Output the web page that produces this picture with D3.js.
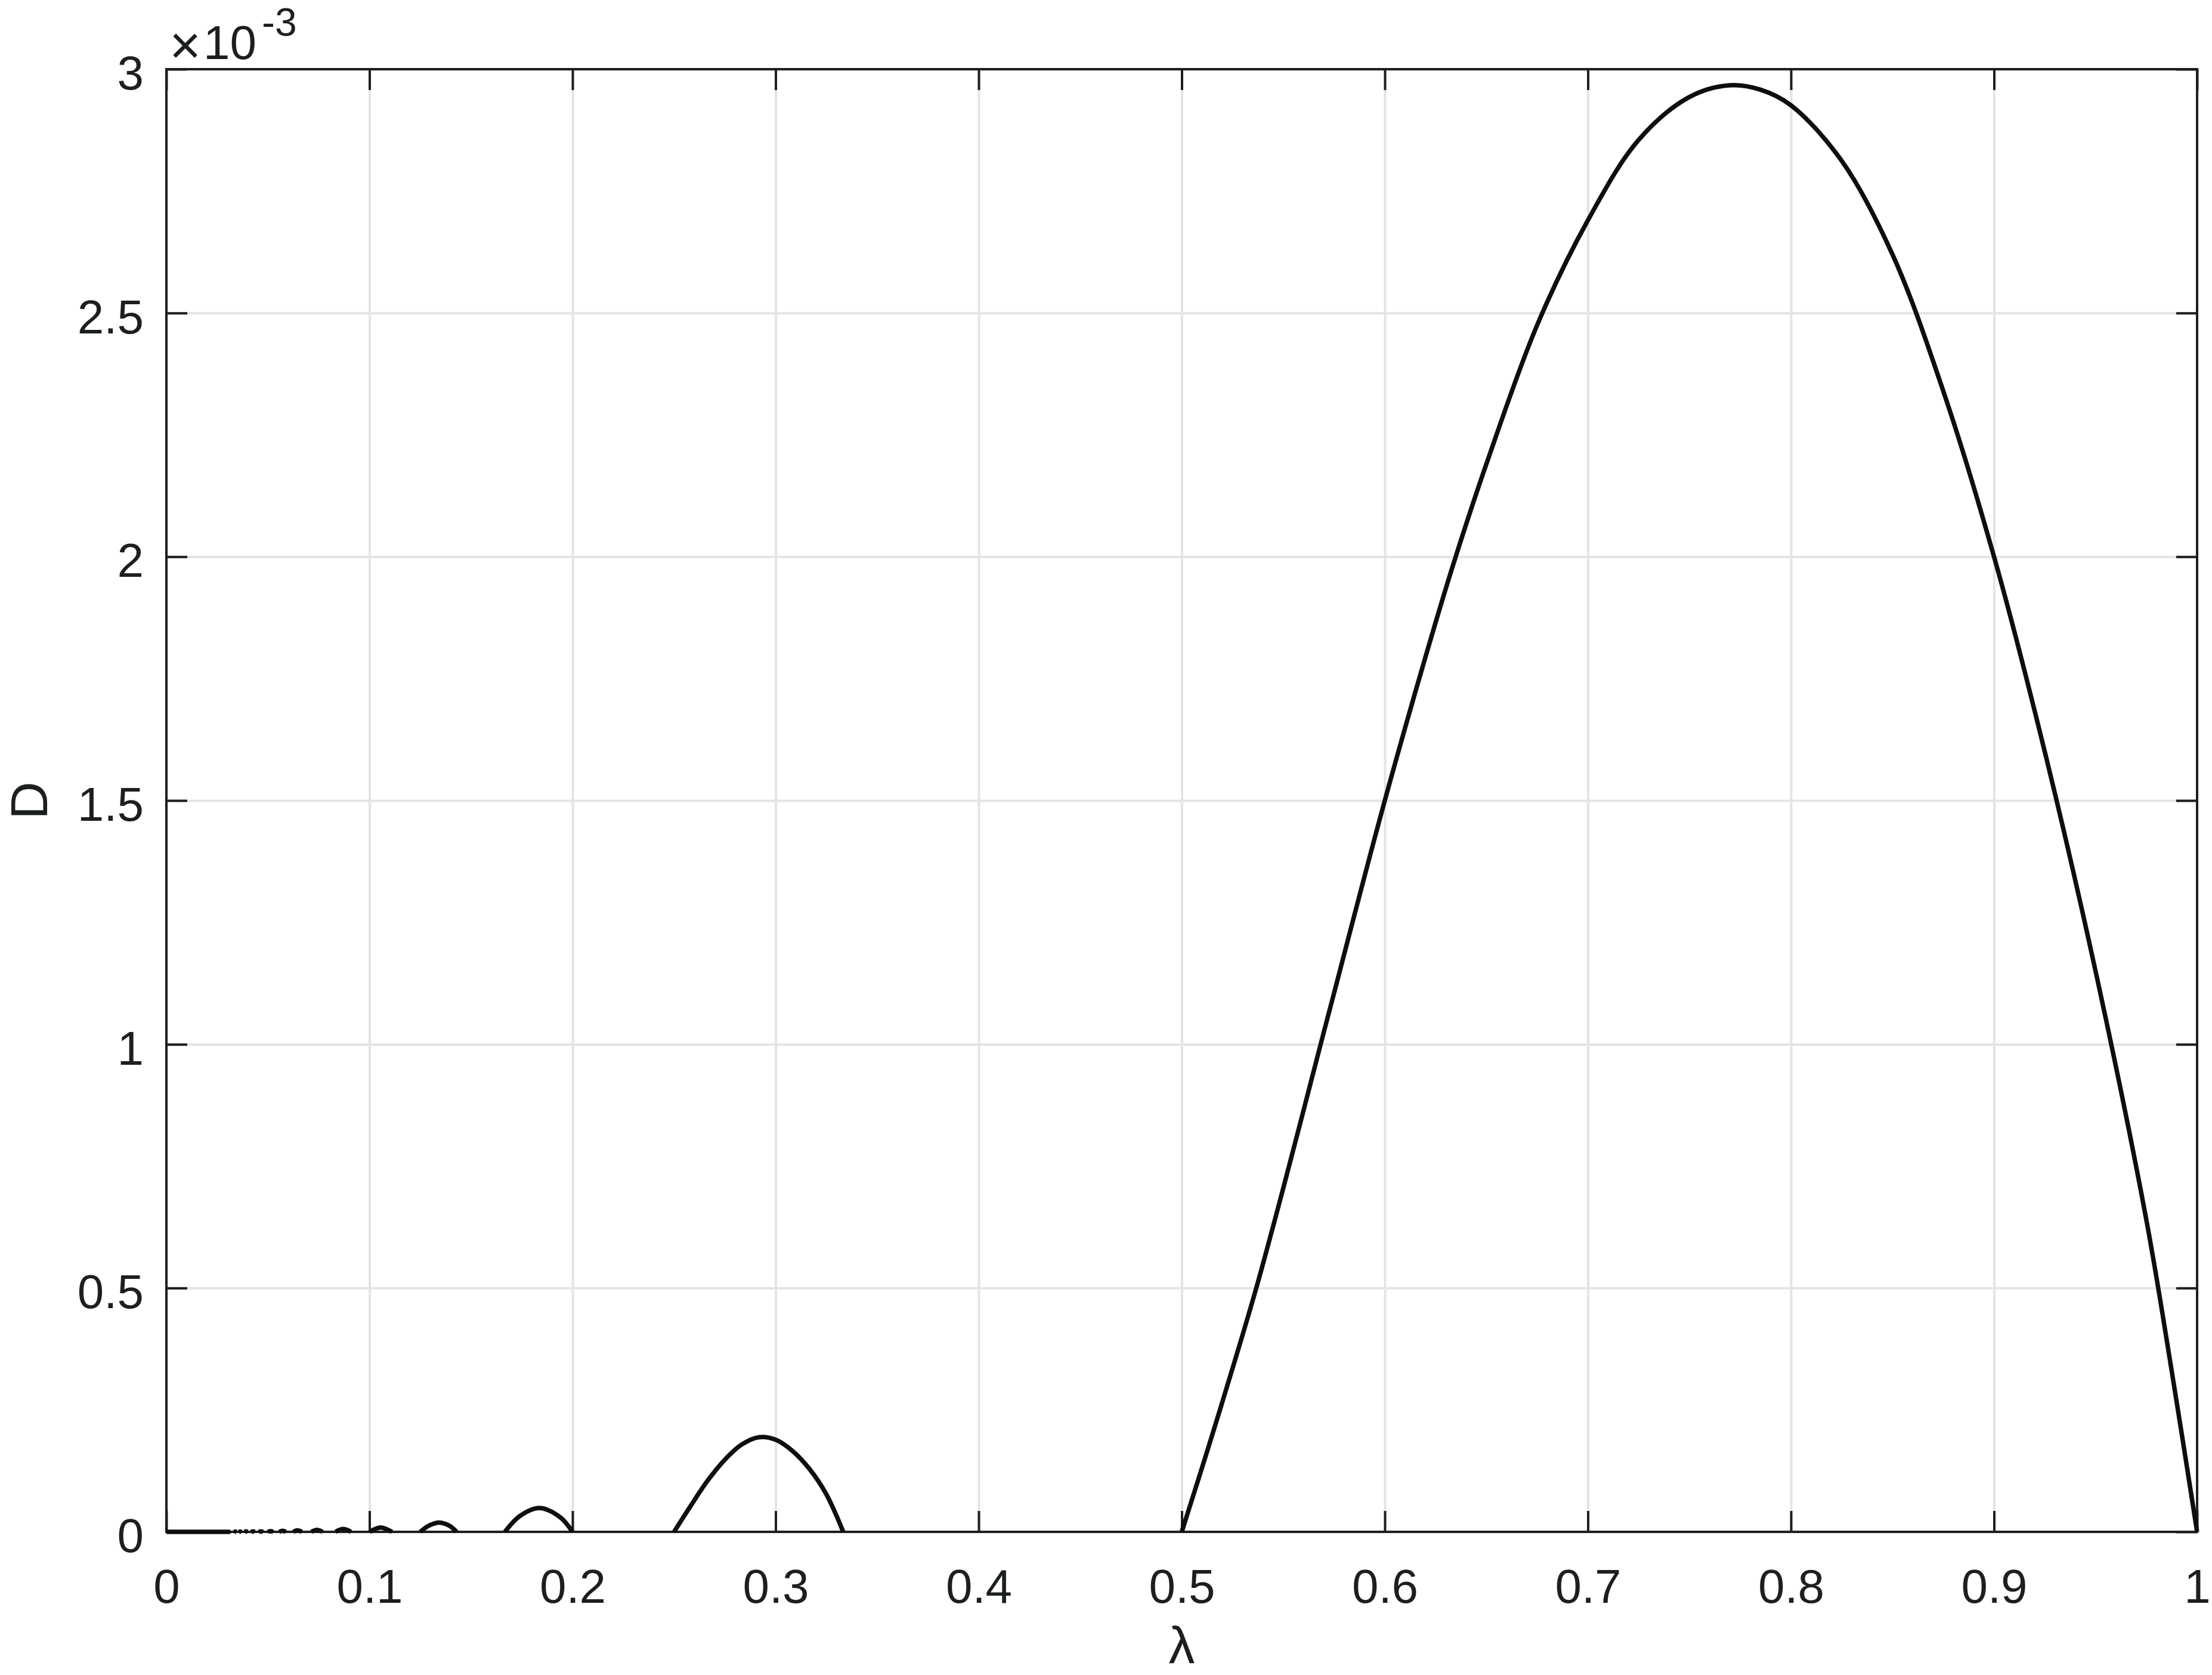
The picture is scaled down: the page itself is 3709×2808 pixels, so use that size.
<!DOCTYPE html>
<html>
<head>
<meta charset="utf-8">
<script src="https://cdn.jsdelivr.net/npm/d3@7"></script>
<style>
  html, body { margin: 0; padding: 0; background: #fff; }
  svg { display: block; font-family: "Liberation Sans", Arial, Helvetica, sans-serif; }
</style>
</head>
<body>
<script>
// main hump, lambda in [1/2, 1], D in units of 1e-3
const mainLambda = [0.5, 0.5125, 0.525, 0.5367, 0.55, 0.5684, 0.575, 0.6, 0.625, 0.6349, 0.65, 0.675, 0.7, 0.725, 0.75, 0.7697, 0.785, 0.8, 0.825, 0.85, 0.875, 0.9, 0.925, 0.95, 0.975, 0.9875, 1.0]
const mainD = [0, 0.165, 0.335, 0.5, 0.705, 1.0, 1.105, 1.5, 1.865, 2.0, 2.19, 2.475, 2.69, 2.855, 2.943, 2.967, 2.958, 2.926, 2.812, 2.62, 2.34, 2.0, 1.6, 1.15, 0.64, 0.33, 0]

// second hump, [1/4, 1/3]
const hump2Lambda = [0.25, 0.2583, 0.2667, 0.275, 0.2833, 0.2917, 0.3, 0.3083, 0.3167, 0.325, 0.3333]
const hump2D = [0, 0.054, 0.106, 0.148, 0.179, 0.194, 0.189, 0.166, 0.129, 0.077, 0]

// third and fourth humps
const hump3Lambda = [0.1667, 0.1739, 0.1836, 0.1939, 0.2]
const hump3D = [0, 0.032, 0.049, 0.030, 0]
const hump4Lambda = [0.125, 0.1294, 0.1345, 0.1396, 0.1429]
const hump4D = [0, 0.013, 0.019, 0.012, 0]

// tiny humps near the origin
const smallStart = [0.1, 0.0833, 0.0714, 0.0625, 0.0556, 0.05, 0.0455, 0.0417, 0.0385, 0.0357, 0.0333]
const smallPeak = [0.1055, 0.0871, 0.0741, 0.0645, 0.0572, 0.0513, 0.0465, 0.0426, 0.0392, 0.0363, 0.0339]
const smallEnd = [0.1111, 0.0909, 0.0769, 0.0667, 0.0588, 0.0526, 0.0476, 0.0435, 0.04, 0.037, 0.0345]
const smallHeight = [0.009, 0.0057, 0.004, 0.003, 0.002, 0.0015, 0.001, 0.001, 0.0008, 0.0006, 0.0005]
// merged band of the remaining humps
const bandLambda = [0, 0.0315]
const bandD = [0, 0]

const xTicks = [0, 0.1, 0.2, 0.3, 0.4, 0.5, 0.6, 0.7, 0.8, 0.9, 1]
const xTickLabels = ['0', '0.1', '0.2', '0.3', '0.4', '0.5', '0.6', '0.7', '0.8', '0.9', '1']
const yTicks = [0, 0.5, 1, 1.5, 2, 2.5, 3]
const yTickLabels = ['0', '0.5', '1', '1.5', '2', '2.5', '3']

const width = 3709
const height = 2808
const plotLeft = 279, plotRight = 3684, plotTop = 116, plotBottom = 2568
const axisColor = '#1c1f1f'
const gridColor = '#e2e5e5'

const svg = d3.select('body').append('svg').attr('width', width).attr('height', height)
svg.append('rect').attr('width', width).attr('height', height).attr('fill', '#fff')

const x = d3.scaleLinear().domain([0, 1]).range([plotLeft, plotRight])
const y = d3.scaleLinear().domain([0, 3]).range([plotBottom, plotTop])

// grid
const xGrid = svg.append('g').attr('transform', `translate(0,${plotBottom})`)
    .call(d3.axisBottom(x).tickValues(xTicks).tickSize(-(plotBottom - plotTop)).tickFormat(''))
const yGrid = svg.append('g').attr('transform', `translate(${plotLeft},0)`)
    .call(d3.axisLeft(y).tickValues(yTicks).tickSize(-(plotRight - plotLeft)).tickFormat(''))
;[xGrid, yGrid].forEach(g => {
    g.select('.domain').remove()
    g.selectAll('line').attr('stroke', gridColor).attr('stroke-width', 4)
})

// ticks + labels
const xAxis = svg.append('g').attr('transform', `translate(0,${plotBottom})`)
    .call(d3.axisBottom(x).tickValues(xTicks).tickSize(-35).tickSizeOuter(0).tickPadding(62)
        .tickFormat((d, i) => xTickLabels[i]))
const xTop = svg.append('g').attr('transform', `translate(0,${plotTop})`)
    .call(d3.axisTop(x).tickValues(xTicks).tickSize(-35).tickSizeOuter(0).tickFormat(''))
const yAxis = svg.append('g').attr('transform', `translate(${plotLeft},0)`)
    .call(d3.axisLeft(y).tickValues(yTicks).tickSize(-35).tickSizeOuter(0).tickPadding(38)
        .tickFormat((d, i) => yTickLabels[i]))
const yRight = svg.append('g').attr('transform', `translate(${plotRight},0)`)
    .call(d3.axisRight(y).tickValues(yTicks).tickSize(-35).tickSizeOuter(0).tickFormat(''))

;[xAxis, xTop, yAxis, yRight].forEach(g => {
    g.select('.domain').remove()
    g.selectAll('line').attr('stroke', axisColor).attr('stroke-width', 4)
    g.selectAll('text').attr('fill', axisColor).style('font-size', '80px')
        .style('font-family', '"Liberation Sans", Arial, Helvetica, sans-serif')
})
yAxis.selectAll('text').attr('dy', '0.42em')

// frame
svg.append('rect')
    .attr('x', x(0)).attr('y', y(3))
    .attr('width', x(1) - x(0)).attr('height', y(0) - y(3))
    .attr('fill', 'none').attr('stroke', axisColor).attr('stroke-width', 4)

// curve
const line = d3.line().x(d => x(d[0])).y(d => y(d[1])).curve(d3.curveCatmullRom.alpha(0.5))
const segments = [
    d3.zip(mainLambda, mainD),
    d3.zip(hump2Lambda, hump2D),
    d3.zip(hump3Lambda, hump3D),
    d3.zip(hump4Lambda, hump4D),
    d3.zip(bandLambda, bandD)
]
smallStart.forEach((s, i) => {
    segments.push([[s, 0], [smallPeak[i], smallHeight[i]], [smallEnd[i], 0]])
})
svg.append('g').selectAll('path').data(segments).enter().append('path')
    .attr('d', line)
    .attr('fill', 'none')
    .attr('stroke', '#0d0e0e')
    .attr('stroke-width', 7.5)
    .attr('stroke-linejoin', 'round')

// exponent label
const expo = svg.append('text').attr('fill', axisColor)
expo.append('tspan').attr('x', 284).attr('y', 107).style('font-size', '91px').text('×')
expo.append('tspan').attr('x', 341).attr('y', 99).style('font-size', '80px').text('10')
expo.append('tspan').attr('x', 439).attr('y', 60).style('font-size', '66px').text('-3')

// axis labels
svg.append('text')
    .attr('transform', `translate(79,${(plotTop + plotBottom) / 2}) rotate(-90)`)
    .attr('text-anchor', 'middle')
    .attr('fill', axisColor)
    .style('font-size', '88px')
    .text('D')
svg.append('text')
    .attr('x', (plotLeft + plotRight) / 2).attr('y', 2788)
    .attr('text-anchor', 'middle')
    .attr('fill', axisColor)
    .style('font-size', '88px')
    .text('λ')
</script>
</body>
</html>
